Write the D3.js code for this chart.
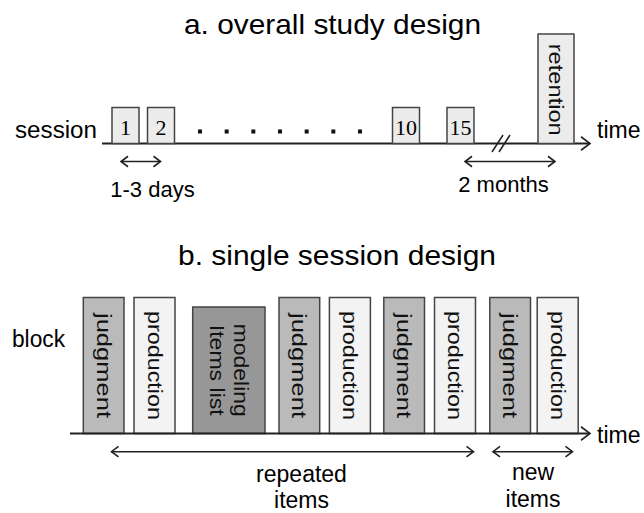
<!DOCTYPE html>
<html><head><meta charset="utf-8">
<script src="https://cdn.jsdelivr.net/npm/d3@7/dist/d3.min.js"></script>
<style>html,body{margin:0;padding:0;background:#fff;}svg{display:block;}</style>
</head><body><div id="chart"></div>
<script>
// ---------- data ----------
const titles = ["a. overall study design", "b. single session design"];
const sessions = ["1", "2", "10", "15"];
const sessionDots = [3, 4, 5, 6, 7, 8, 9];
const finalSession = "retention";
const gapLabels = ["1-3 days", "2 months"];
const blocks = ["judgment", "production", "modeling|Items list", "judgment", "production", "judgment", "production", "judgment", "production"];
const blockTypes = ["judgment", "production", "modeling", "judgment", "production", "judgment", "production", "judgment", "production"];
const phaseLabels = [["repeated", "items"], ["new", "items"]];

// ---------- layout ----------
const W = 644, H = 513;
const font = "Liberation Sans, Arial, sans-serif";
const svg = d3.select("#chart").append("svg").attr("width", W).attr("height", H);
const ink = "#222";
const boxStroke = "#444";

function chevron(g, x, y, dir, size) {
  const s = size || 7;
  g.append("path").attr("d", `M${x - dir * s},${y - s * 0.75}L${x},${y}L${x - dir * s},${y + s * 0.75}`)
    .attr("fill", "none").attr("stroke", ink).attr("stroke-width", 1.6);
}
function dblArrow(g, x0, x1, y) {
  g.append("line").attr("x1", x0).attr("x2", x1).attr("y1", y).attr("y2", y).attr("stroke", ink).attr("stroke-width", 1.6);
  chevron(g, x0, y, -1, 7); chevron(g, x1, y, 1, 7);
}

// ===== part a =====
const ga = svg.append("g");
ga.append("text").attr("x", 184).attr("y", 34).attr("font-family", font).attr("font-size", 28)
  .attr("textLength", 297).attr("lengthAdjust", "spacingAndGlyphs").text(titles[0]);

const axisY = 143.5;
const xs = d3.scaleLinear().domain([1, 2, 10, 15]).range([112, 147.5, 392.5, 447]);
const xDots = d3.scaleLinear().domain([3, 9]).range([200, 360]);
ga.append("line").attr("x1", 102).attr("x2", 590).attr("y1", axisY).attr("y2", axisY).attr("stroke", ink).attr("stroke-width", 2);
chevron(ga, 590, axisY, 1, 9);
ga.append("text").attr("x", 15).attr("y", 138).attr("font-family", font).attr("font-size", 23).attr("textLength", 82).attr("lengthAdjust", "spacingAndGlyphs").text("session");
ga.append("text").attr("x", 597).attr("y", 138).attr("font-family", font).attr("font-size", 23).text("time");

const sb = ga.selectAll("g.s").data(sessions).join("g").attr("class", "s");
sb.append("rect").attr("x", d => xs(+d)).attr("y", axisY - 36).attr("width", 27).attr("height", 36)
  .attr("fill", "#ececec").attr("stroke", boxStroke).attr("stroke-width", 1.5);
sb.append("text").attr("x", d => xs(+d) + 13.5).attr("y", axisY - 9).attr("text-anchor", "middle")
  .attr("font-family", "Liberation Serif, Times New Roman, serif").attr("font-size", 22).text(d => d);

ga.selectAll("rect.dot").data(sessionDots).join("rect").attr("class", "dot")
  .attr("x", d => xDots(d) - 2).attr("y", 129.5).attr("width", 4).attr("height", 4).attr("fill", "#111");

// break marks
[0, 7].forEach(o => ga.append("line").attr("x1", 492 + o).attr("y1", 152).attr("x2", 503 + o).attr("y2", 135).attr("stroke", ink).attr("stroke-width", 1.5));

// retention box
ga.append("rect").attr("x", 538).attr("y", 34).attr("width", 36).attr("height", axisY - 34)
  .attr("fill", "#ececec").attr("stroke", boxStroke).attr("stroke-width", 1.5);
ga.append("text").attr("transform", `translate(556,${(34 + axisY) / 2 + 1}) rotate(90)`).attr("text-anchor", "middle")
  .attr("dominant-baseline", "central").attr("font-family", font).attr("font-size", 20).attr("fill", "#111")
  .attr("textLength", 92).attr("lengthAdjust", "spacingAndGlyphs").text(finalSession);

dblArrow(ga, 121, 160.5, 161.5);
ga.append("text").attr("x", 152.5).attr("y", 197).attr("text-anchor", "middle").attr("font-family", font).attr("font-size", 22).text(gapLabels[0]);
dblArrow(ga, 465, 555, 161.5);
ga.append("text").attr("x", 503.5).attr("y", 192).attr("text-anchor", "middle").attr("font-family", font).attr("font-size", 22).text(gapLabels[1]);

// ===== part b =====
const gb = svg.append("g");
gb.append("text").attr("x", 178).attr("y", 265).attr("font-family", font).attr("font-size", 28)
  .attr("textLength", 318).attr("lengthAdjust", "spacingAndGlyphs").text(titles[1]);
gb.append("text").attr("x", 12).attr("y", 347).attr("font-family", font).attr("font-size", 23).attr("textLength", 53).attr("lengthAdjust", "spacingAndGlyphs").text("block");

const baseY = 433.5;
const fills = { judgment: "#bababa", production: "#f3f3f3", modeling: "#979797" };
const tops = { judgment: 297.5, production: 297.5, modeling: 307 };
const widths = { judgment: 40.7, production: 41, modeling: 72.3 };
const textLen = { judgment: 105, production: 109 };
const gaps = [0, 10, 17.7, 14, 9.7, 13.4, 10, 14.3, 6.7];
let cx = 83.3;
const pos = blocks.map((b, i) => { cx += gaps[i]; const p = { x: cx, w: widths[blockTypes[i]] }; cx += p.w; return p; });

const bg = gb.selectAll("g.b").data(blocks).join("g").attr("class", "b");
bg.append("rect").attr("x", (d, i) => pos[i].x).attr("y", (d, i) => tops[blockTypes[i]])
  .attr("width", (d, i) => pos[i].w).attr("height", (d, i) => baseY - tops[blockTypes[i]])
  .attr("fill", (d, i) => fills[blockTypes[i]]).attr("stroke", boxStroke).attr("stroke-width", 1.5);
bg.each(function (d, i) {
  const g = d3.select(this);
  const lines = d.split("|");
  const t = blockTypes[i];
  const cxm = pos[i].x + pos[i].w / 2;
  const cym = (tops[t] + baseY) / 2;
  const lh = 24;
  lines.forEach((ln, k) => {
    const off = (lines.length - 1) / 2 * lh - k * lh;
    const tx = g.append("text").attr("transform", `translate(${cxm + off},${cym}) rotate(90)`)
      .attr("text-anchor", "middle").attr("dominant-baseline", "central")
      .attr("font-family", font).attr("font-size", 20).attr("fill", "#111").text(ln);
    const L = t === "modeling" ? (k === 0 ? 93 : 91) : textLen[t];
    tx.attr("textLength", L).attr("lengthAdjust", "spacingAndGlyphs");
  });
});

gb.append("line").attr("x1", 70).attr("x2", 590).attr("y1", baseY).attr("y2", baseY).attr("stroke", ink).attr("stroke-width", 2);
chevron(gb, 590, baseY, 1, 9);
gb.append("text").attr("x", 597).attr("y", 443).attr("font-family", font).attr("font-size", 23).text("time");

dblArrow(gb, 111.5, 473.5, 451.7);
dblArrow(gb, 493, 572.5, 451.7);
const phaseX = [301.5, 533];
const phaseY = [[482, 507.5], [480, 506.5]];
phaseLabels.forEach((lines, j) => lines.forEach((ln, k) =>
  gb.append("text").attr("x", phaseX[j]).attr("y", phaseY[j][k]).attr("text-anchor", "middle")
    .attr("font-family", font).attr("font-size", 23).text(ln)));
</script></body></html>
